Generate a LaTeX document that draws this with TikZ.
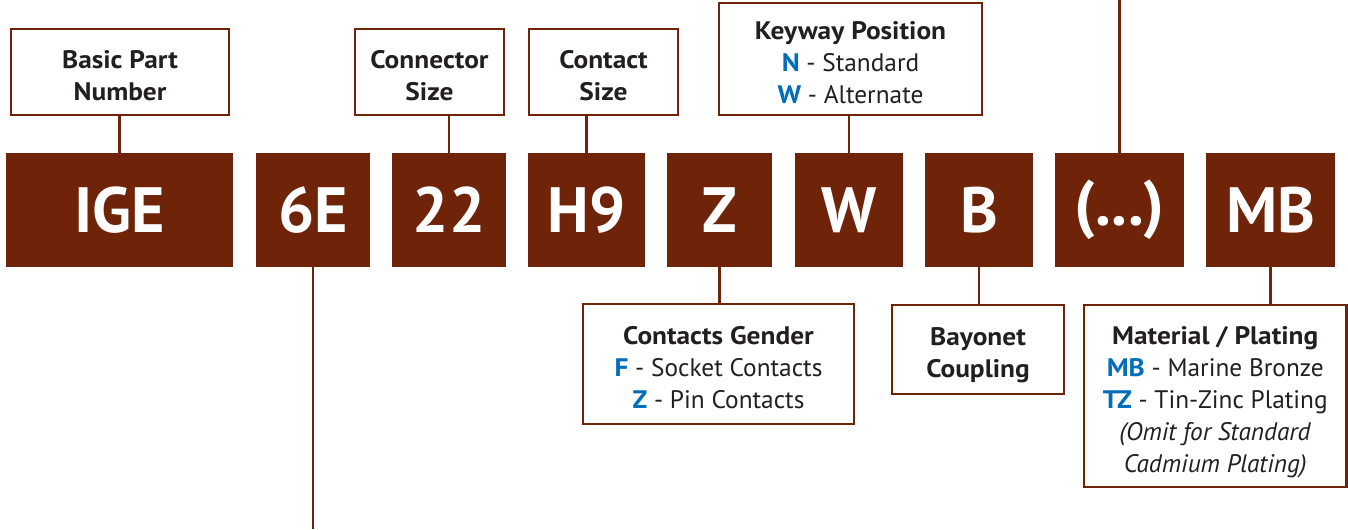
\documentclass[tikz,border=0pt]{standalone}
\usepackage{fontspec}
\setmainfont{PT Sans}
\newfontfamily\lblfont{PT Sans}[BoldFeatures={FakeStretch=1.08}]
\definecolor{brn}{RGB}{111,35,8}
\definecolor{blu}{RGB}{0,110,184}
\definecolor{txt}{RGB}{35,31,32}
\newcommand\bx[7]{\node[#6, minimum width={(#4-#2)*0.75pt}, minimum height={(#5-#3)*0.75pt}] (#1) at ({(#2+#4)/2},{(#3+#5)/2}) {#7};}
\newcommand\lb[6]{\node[lbl, minimum width={(#4-#2)*0.75pt}, minimum height={(#5-#3)*0.75pt}, label={[lbltext]center:{#6}}] (#1) at ({(#2+#4)/2},{(#3+#5)/2}) {};}
\newcommand\hl[1]{\textcolor{blu}{\textbf{#1}}}
\begin{document}
\begin{tikzpicture}[x=0.75pt,y=-0.75pt,
 code/.style={fill=brn, draw=none, text=white, inner sep=0pt, font=\fontsize{48}{48}\selectfont\bfseries},
 lbl/.style={draw=brn, line width=1.8pt, fill=white, inner sep=0pt},
 lbltext/.style={text=txt, inner sep=0pt, align=center, text depth=0pt, yshift=-2.3pt, font=\lblfont\fontsize{19}{24}\selectfont},
 conn/.style={draw=brn, line width=1.8pt}
]
\useasboundingbox (0,0) rectangle (1348,529);
% code boxes
\bx{ige}{6}{153}{233}{267}{code}{IGE}
\bx{sixe}{256}{153}{370}{267}{code}{6E}
\bx{tt}{392}{153}{506}{267}{code}{22}
\bx{hn}{528}{153}{645}{267}{code}{H9}
\bx{zz}{667}{153}{772}{267}{code}{Z}
\bx{ww}{795}{153}{903}{267}{code}{W}
\bx{bb}{925}{153}{1033}{267}{code}{B}
\bx{dots}{1055}{153}{1184}{267}{code}{(...)}
\bx{mb}{1206}{153}{1335}{267}{code}{MB}
% labels
\lb{bpn}{11}{29}{229}{115}{\textbf{Basic Part}\\\textbf{Number}}
\lb{csz}{355}{29}{504}{115}{\textbf{Connector}\\\textbf{Size}}
\lb{ctz}{529}{29}{678}{115}{\textbf{Contact}\\\textbf{Size}}
\lb{kwp}{719}{3}{982}{115}{\textbf{Keyway Position}\\\hl{N} - Standard\\\hl{W} - Alternate}
\lb{cg}{583}{304}{854}{424}{\textbf{Contacts Gender}\\\hl{F} - Socket Contacts\\\hl{Z} - Pin Contacts}
\lb{bc}{892}{305}{1064}{394}{\textbf{Bayonet}\\\textbf{Coupling}}
\lb{mp}{1084}{305}{1346.5}{487}{\textbf{Material / Plating}\\\hl{MB} - Marine Bronze\\\hl{TZ} - Tin-Zinc Plating\\\textit{(Omit for Standard}\\\textit{Cadmium Plating)}}
% free ends
\coordinate (topend) at (1119.3,0);
\coordinate (botend) at (312.3,529);
% connectors
\draw[conn] (ige.north) -- (ige.north |- bpn.south);
\draw[conn] (tt.north) -- (tt.north |- csz.south);
\draw[conn] (hn.north) -- (hn.north |- ctz.south);
\draw[conn] (ww.north) -- (ww.north |- kwp.south);
\draw[conn] (dots.north) -- (dots.north |- topend);
\draw[conn] (sixe.south) -- (sixe.south |- botend);
\draw[conn] (zz.south) -- (zz.south |- cg.north);
\draw[conn] (bb.south) -- (bb.south |- bc.north);
\draw[conn] (mb.south) -- (mb.south |- mp.north);
\end{tikzpicture}
\end{document}
